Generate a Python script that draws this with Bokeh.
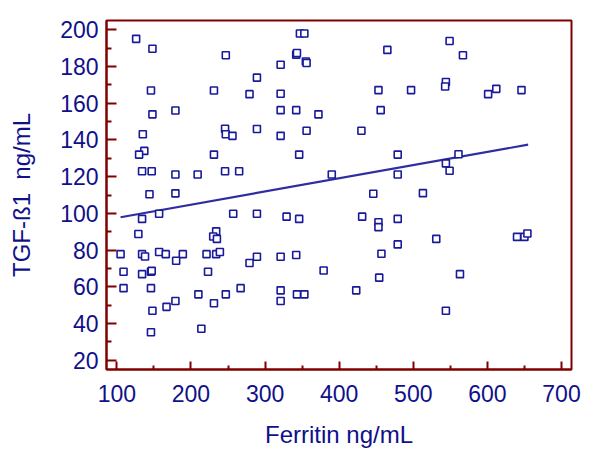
from bokeh.plotting import figure
from bokeh.models import FixedTicker
from bokeh.embed import file_html
from bokeh.resources import INLINE

ferritin = [126, 148, 247, 289, 146, 231, 279, 148, 179, 246, 247, 256, 289, 135, 137, 130,
            231, 134, 147, 179, 209, 246, 265, 144, 179,
            347, 353, 342, 343, 355, 356, 321, 465, 321, 453, 497, 321, 342, 372, 456,
            356, 430, 321, 346, 479, 390, 479, 446, 513,
            549, 567, 544, 543, 601, 612, 646, 561, 544, 549,
            134, 157, 257, 289, 129, 234, 230, 235, 105, 134, 138, 157, 166, 189, 180,
            221, 234, 239, 279, 289, 109, 134, 146, 147, 223, 109, 146, 210, 247, 267,
            231, 179, 167, 148, 146, 214,
            329, 346, 431, 453, 453, 479, 321, 342, 379, 457, 479, 454, 321, 321, 343,
            353, 423,
            531, 640, 650, 654, 563, 544]
tgf = [195.0, 189.6, 186.1, 173.9, 166.9, 166.9, 164.9, 153.9, 156.0, 146.1, 143.1, 142.2,
       145.9, 143.1, 134.0, 132.0, 132.0, 122.9, 122.9, 121.2, 121.2, 122.9, 122.9, 110.4, 110.9,
       197.9, 197.9, 186.4, 187.3, 182.7, 181.9, 180.9, 189.0, 165.1, 167.1, 167.1, 156.2,
       156.2, 153.9, 156.2, 145.0, 145.0, 142.2, 132.0, 132.0, 121.2, 121.2, 110.7, 111.0,
       193.8, 186.1, 171.5, 169.1, 164.9, 167.8, 167.1, 132.2, 127.2, 123.2,
       97.0, 99.8, 99.8, 99.8, 88.8, 90.2, 87.4, 86.1, 77.8, 77.8, 76.5, 79.0, 77.8, 77.8, 74.2,
       77.8, 77.8, 79.0, 73.0, 76.4, 68.2, 66.9, 68.2, 68.7, 68.2, 59.3, 59.3, 55.9, 55.9, 59.3,
       51.1, 52.3, 49.1, 47.0, 35.3, 37.2,
       98.2, 97.0, 98.2, 95.2, 92.5, 97.0, 76.4, 77.3, 68.9, 78.0, 83.1, 65.0, 58.1, 52.3, 55.9,
       55.9, 58.1,
       86.1, 87.2, 87.2, 89.0, 66.9, 47.0]

fit_x = [105, 655]
fit_y = [97.9, 137.4]

x_ticks = [100, 200, 300, 400, 500, 600, 700]
x_minor = [150, 250, 350, 450, 550, 650]
y_ticks = [20, 40, 60, 80, 100, 120, 140, 160, 180, 200]
y_minor = [30, 50, 70, 90, 110, 130, 150, 170, 190]

TEXT = "#10108a"
AXIS = "#800000"
FONT = "Liberation Sans"

p = figure(width=584, height=450, x_range=(86, 713.5), y_range=(15, 205),
           output_backend="svg", toolbar_location=None,
           min_border_left=106, min_border_right=13, min_border_top=20, min_border_bottom=74)

p.grid.visible = False
p.outline_line_color = AXIS
p.outline_line_width = 2
p.background_fill_color = "white"
p.border_fill_color = "white"

p.line(fit_x, fit_y, line_color="#2e2ea0", line_width=2.2)
p.scatter(ferritin, tgf, marker="square", size=7, fill_color="white",
          line_color="#1a1a99", line_width=1.6)

p.xaxis.ticker = FixedTicker(ticks=x_ticks, minor_ticks=x_minor)
p.yaxis.ticker = FixedTicker(ticks=y_ticks, minor_ticks=y_minor)

for ax in (p.xaxis[0], p.yaxis[0]):
    ax.axis_line_color = AXIS
    ax.axis_line_width = 2
    ax.major_tick_line_color = AXIS
    ax.minor_tick_line_color = AXIS
    ax.major_tick_line_width = 2
    ax.minor_tick_line_width = 2
    ax.major_tick_out = 0
    ax.minor_tick_out = 0
    ax.major_label_text_font = FONT
    ax.major_label_text_font_size = "23px"
    ax.major_label_text_color = TEXT
    ax.axis_label_text_font = FONT
    ax.axis_label_text_font_size = "24px"
    ax.axis_label_text_font_style = "normal"
    ax.axis_label_text_color = TEXT

p.xaxis.major_tick_in = 8
p.xaxis.minor_tick_in = 4
p.yaxis.major_tick_in = 10
p.yaxis.minor_tick_in = 5
p.xaxis.major_label_standoff = 15
p.yaxis.major_label_standoff = 8
p.xaxis.axis_label = "Ferritin ng/mL"
p.yaxis.axis_label = "TGF-\u00df1 \u00a0ng/mL"
p.xaxis.axis_label_standoff = 16
p.yaxis.axis_label_standoff = 22

open("out.html", "w").write(file_html(p, INLINE))
